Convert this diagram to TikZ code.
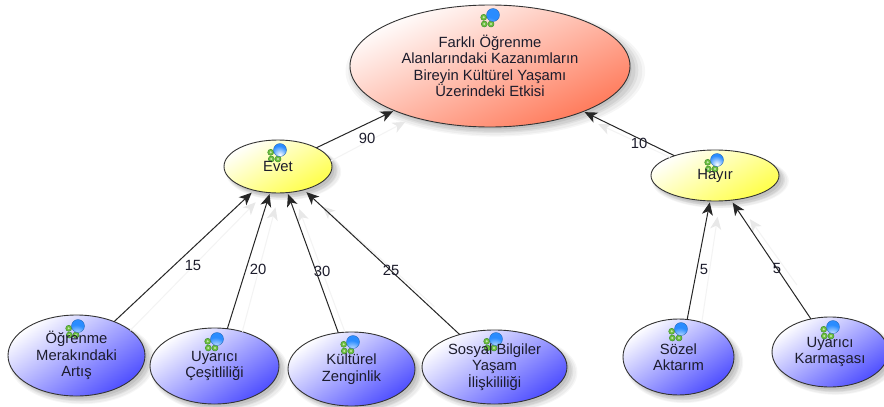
\documentclass[tikz,border=0pt]{standalone}
\usepackage{fontspec}
\setmainfont{Liberation Sans}
\usetikzlibrary{shapes.geometric,arrows.meta,shadows}
\definecolor{ink}{HTML}{1C1C2C}
\definecolor{topc}{HTML}{FF7858}
\definecolor{yelc}{HTML}{FFFF48}
\definecolor{bluc}{HTML}{4E4EFF}
\definecolor{ghost}{HTML}{F3F3F3}
\definecolor{ghosttip}{HTML}{E8E8E8}
\definecolor{gleaf}{HTML}{6FBF3F}
\definecolor{gedge}{HTML}{3F8F2F}
\definecolor{ballc}{HTML}{2A8CFF}
\newcommand{\ballicon}[2]{%
    \foreach \gx/\gy in {-9.3/2.3,-8.7/9,-2/9}{
      \fill[draw=gedge,line width=.5pt,fill=gleaf] (path picture bounding box.center) ++({#1+\gx},{#2+\gy}) circle[radius=3];
      \fill[white!60!gleaf] (path picture bounding box.center) ++({#1+\gx},{#2+\gy}) circle[radius=1.1];
    }
    \shade[inner color=white,outer color=ballc,draw=ballc!70!black,line width=.3pt] (path picture bounding box.center) ++(#1,#2) circle[radius=6.5];}
\tikzset{
  softshadow/.style={
    general shadow={shadow xshift=5pt,shadow yshift=-5pt,shadow scale=1.07,fill=black,opacity=.035},
    general shadow={shadow xshift=5pt,shadow yshift=-5pt,shadow scale=1.05,fill=black,opacity=.04},
    general shadow={shadow xshift=4pt,shadow yshift=-4pt,shadow scale=1.03,fill=black,opacity=.05},
    general shadow={shadow xshift=4pt,shadow yshift=-4pt,shadow scale=1.01,fill=black,opacity=.06},
    general shadow={shadow xshift=3pt,shadow yshift=-3pt,shadow scale=.99,fill=black,opacity=.07}},
  oval/.style={ellipse,softshadow,inner sep=0pt,outer sep=0pt,align=center,draw=black!80,line width=.9pt,
    text=ink,font=\fontsize{14.8}{16.5}\selectfont},
  topoval/.style={oval,top color=white,bottom color=topc,shading angle=25},
  yeloval/.style={oval,top color=white,bottom color=yelc,shading angle=30},
  bluoval/.style={oval,top color=white,bottom color=bluc,shading angle=35},
  link/.style={draw=black!85,line width=1pt,-{Stealth[length=12.5pt,width=11pt,inset=3.5pt]}},
  ghostlink/.style={draw=ghost,line width=1pt,-{Stealth[length=12.5pt,width=11pt,inset=3.5pt,color=ghosttip]}},
  weight/.style={text=ink,font=\fontsize{14.8}{15}\selectfont,inner sep=0pt}
}
\begin{document}
\begin{tikzpicture}[x=1pt,y=-1pt]
\useasboundingbox (0,0) rectangle (884,407);
\fill[white] (0,0) rectangle (884,407);

\node[topoval,minimum width=280pt,minimum height=122pt,path picture={\ballicon{3}{-51}}] (top) at (490,66)
  {Farklı Öğrenme\\Alanlarındaki Kazanımların\\Bireyin Kültürel Yaşamı\\Üzerindeki Etkisi};
\node[yeloval,minimum width=108pt,minimum height=53pt,path picture={\ballicon{2}{-16.5}}] (evet) at (278,166.5) {Evet};
\node[yeloval,minimum width=128pt,minimum height=51pt,path picture={\ballicon{2}{-15.5}}] (hayir) at (715,175.5) {Hayır};
\node[bluoval,minimum width=137pt,minimum height=81pt,path picture={\ballicon{1.5}{-29.5}}] (merak) at (76.5,355.5) {Öğrenme\\Merakındaki\\Artış};
\node[bluoval,minimum width=129pt,minimum height=76pt,path picture={\ballicon{2.5}{-27}}] (cesit) at (214.5,366) {Uyarıcı\\Çeşitliliği};
\node[bluoval,minimum width=127pt,minimum height=74pt,path picture={\ballicon{1.5}{-27}}] (zengin) at (351.5,369) {Kültürel\\Zenginlik};
\node[bluoval,minimum width=145pt,minimum height=74pt,path picture={\ballicon{1.5}{-28}}] (sosyal) at (494.5,367) {Sosyal Bilgiler\\Yaşam\\İlişkililiği};
\node[bluoval,minimum width=111pt,minimum height=76pt,path picture={\ballicon{2.5}{-28}}] (sozel) at (678.5,357) {Sözel\\Aktarım};
\node[bluoval,minimum width=116pt,minimum height=70pt,path picture={\ballicon{3}{-25}}] (karma) at (830,352) {Uyarıcı\\Karmaşası};

% faint duplicate connectors
\draw[ghostlink,shorten >=10pt] (evet.6.7) -- (top.214.2);
\draw[ghostlink,shorten >=24pt] (hayir.158.6) -- (top.331.8);
\draw[ghostlink,shorten >=14pt] (merak.25.5) -- (evet.244.9);
\draw[ghostlink,shorten >=15pt] (cesit.51) -- (evet.273);
\draw[ghostlink,shorten >=18pt] (zengin.100) -- (evet.300);
\draw[ghostlink,shorten >=25pt,shorten <=40pt] (sosyal.132) -- (evet.318.7);
\draw[ghostlink,shorten >=16pt] (sozel.56.9) -- (hayir.281);
\draw[ghostlink,shorten >=24pt,shorten <=40pt] (karma.106) -- (hayir.311);

% connectors
\draw[link,shorten >=1.5pt] (evet.26) -- (top.205.8);
\draw[link,shorten >=1.5pt] (hayir.154) -- (top.334.2);
\draw[link,shorten >=3.5pt] (merak.42.5) -- (evet.225.5);
\draw[link,shorten >=1.5pt] (cesit.71.8) -- (evet.253.8);
\draw[link,shorten >=1.5pt] (zengin.110) -- (evet.290);
\draw[link,shorten >=3.5pt] (sosyal.137) -- (evet.318.7);
\draw[link,shorten >=1.5pt] (sozel.77.4) -- (hayir.259.3);
\draw[link,shorten >=3pt] (karma.120.5) -- (hayir.303.2);

% weights
\node[weight] (w90) at (367,138) {90};
\node[weight] (w10) at (639,143) {10};
\node[weight] (w15) at (193,265) {15};
\node[weight] (w20) at (258,269) {20};
\node[weight] (w30) at (322,271) {30};
\node[weight] (w25) at (391,270) {25};
\node[weight] (w5a) at (704,269) {5};
\node[weight] (w5b) at (777,268) {5};
\end{tikzpicture}
\end{document}
